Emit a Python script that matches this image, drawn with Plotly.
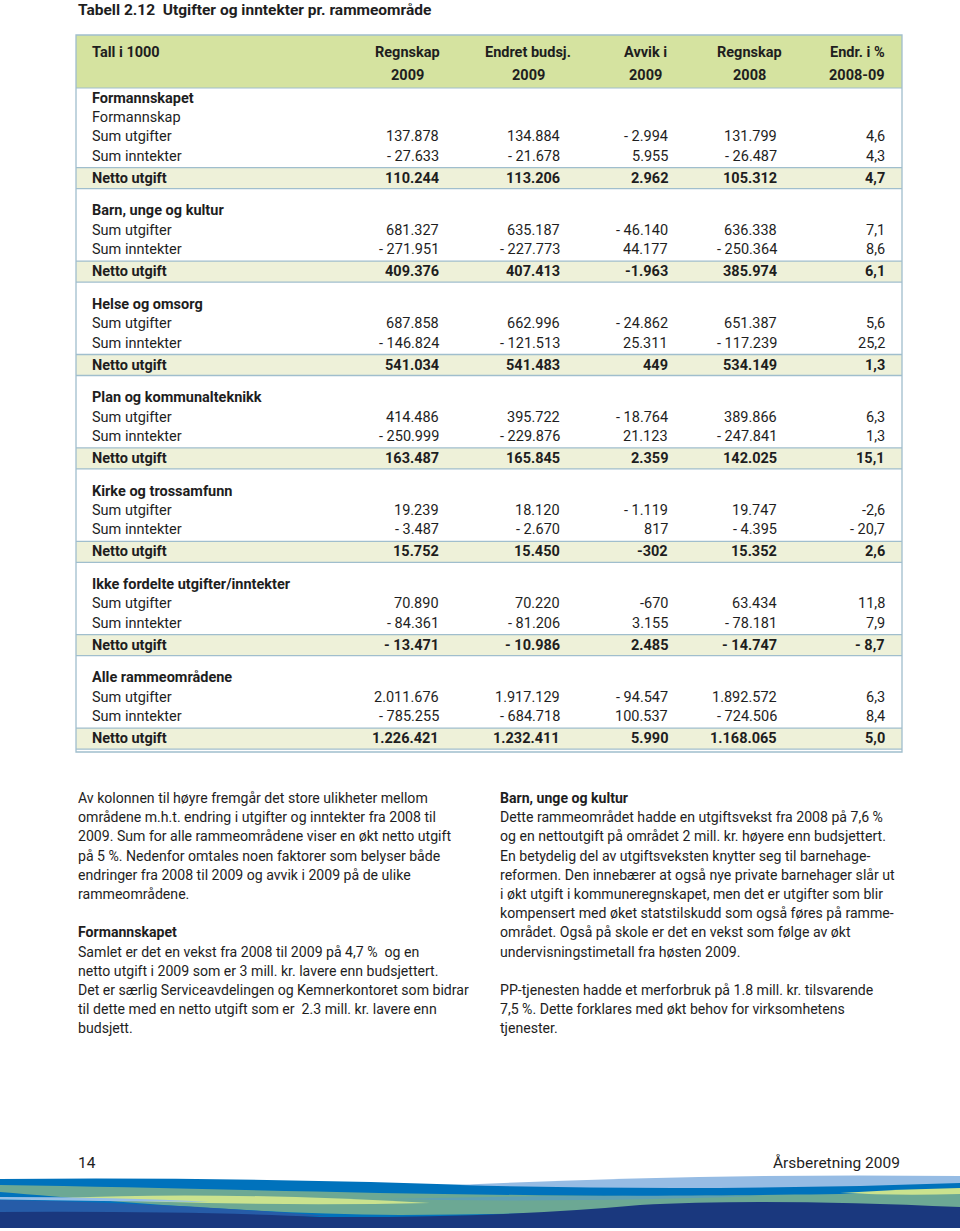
import plotly.graph_objs as go

# table data (Tall i 1000)
col_headers = [("Regnskap", "2009"), ("Endret budsj.", "2009"), ("Avvik i", "2009"),
               ("Regnskap", "2008"), ("Endr. i %", "2008-09")]
sections = ["Formannskapet", "Barn, unge og kultur", "Helse og omsorg",
            "Plan og kommunalteknikk", "Kirke og trossamfunn",
            "Ikke fordelte utgifter/inntekter", "Alle rammeområdene"]
sub_labels = ["Formannskap", "", "", "", "", "", ""]
row_labels = ["Sum utgifter", "Sum inntekter", "Netto utgift"]

regnskap_2009 = [["137.878", "- 27.633", "110.244"],
                 ["681.327", "- 271.951", "409.376"],
                 ["687.858", "- 146.824", "541.034"],
                 ["414.486", "- 250.999", "163.487"],
                 ["19.239", "- 3.487", "15.752"],
                 ["70.890", "- 84.361", "- 13.471"],
                 ["2.011.676", "- 785.255", "1.226.421"]]
budsjett_2009 = [["134.884", "- 21.678", "113.206"],
                 ["635.187", "- 227.773", "407.413"],
                 ["662.996", "- 121.513", "541.483"],
                 ["395.722", "- 229.876", "165.845"],
                 ["18.120", "- 2.670", "15.450"],
                 ["70.220", "- 81.206", "- 10.986"],
                 ["1.917.129", "- 684.718", "1.232.411"]]
avvik_2009 = [["- 2.994", "5.955", "2.962"],
              ["- 46.140", "44.177", "-1.963"],
              ["- 24.862", "25.311", "449"],
              ["- 18.764", "21.123", "2.359"],
              ["- 1.119", "817", "-302"],
              ["-670", "3.155", "2.485"],
              ["- 94.547", "100.537", "5.990"]]
regnskap_2008 = [["131.799", "- 26.487", "105.312"],
                 ["636.338", "- 250.364", "385.974"],
                 ["651.387", "- 117.239", "534.149"],
                 ["389.866", "- 247.841", "142.025"],
                 ["19.747", "- 4.395", "15.352"],
                 ["63.434", "- 78.181", "- 14.747"],
                 ["1.892.572", "- 724.506", "1.168.065"]]
endring_pct = [["4,6", "4,3", "4,7"],
               ["7,1", "8,6", "6,1"],
               ["5,6", "25,2", "1,3"],
               ["6,3", "1,3", "15,1"],
               ["-2,6", "- 20,7", "2,6"],
               ["11,8", "7,9", "- 8,7"],
               ["6,3", "8,4", "5,0"]]

text_left = ["Av kolonnen til høyre fremgår det store ulikheter mellom",
             "områdene m.h.t. endring i utgifter og inntekter fra 2008 til",
             "2009. Sum for alle rammeområdene viser en økt netto utgift",
             "på 5 %. Nedenfor omtales noen faktorer som belyser både",
             "endringer fra 2008 til 2009 og avvik i 2009 på de ulike",
             "rammeområdene.",
             "",
             "<b>Formannskapet</b>",
             "Samlet er det en vekst fra 2008 til 2009 på 4,7 %  og en",
             "netto utgift i 2009 som er 3 mill. kr. lavere enn budsjettert.",
             "Det er særlig Serviceavdelingen og Kemnerkontoret som bidrar",
             "til dette med en netto utgift som er  2.3 mill. kr. lavere enn",
             "budsjett."]
text_right = ["<b>Barn, unge og kultur</b>",
              "Dette rammeområdet hadde en utgiftsvekst fra 2008 på 7,6 %",
              "og en nettoutgift på området 2 mill. kr. høyere enn budsjettert.",
              "En betydelig del av utgiftsveksten knytter seg til barnehage-",
              "reformen. Den innebærer at også nye private barnehager slår ut",
              "i økt utgift i kommuneregnskapet, men det er utgifter som blir",
              "kompensert med øket statstilskudd som også føres på ramme-",
              "området. Også på skole er det en vekst som følge av økt",
              "undervisningstimetall fra høsten 2009.",
              "",
              "PP-tjenesten hadde et merforbruk på 1.8 mill. kr. tilsvarende",
              "7,5 %. Dette forklares med økt behov for virksomhetens",
              "tjenester."]

FONT = "Roboto"
TXT = "rgb(30,30,30)"
HEAD_FILL = "rgb(213,227,160)"
NETTO_FILL = "rgb(238,241,217)"
LINE = "rgb(160,190,205)"

col_right = [441, 562, 670, 779, 887]
col_head_center = [407, 528, 645, 749, 857]
label_x = 90
tbl_left, tbl_right, tbl_top, tbl_bottom = 76, 902, 35, 752

fig = go.Figure()
# invisible trace so the axes exist
fig.add_trace(go.Scatter(x=[0, 960], y=[0, 1231], mode='markers',
                         marker=dict(opacity=0), hoverinfo='skip', showlegend=False))

shapes = []
annotations = []


def txt(x, y, s, anchor='left', size=14.5, bold=False, color=TXT):
    if bold and s:
        s = '<b>' + s + '</b>'
    annotations.append(dict(x=x, y=y, xref='x', yref='y', text=s, showarrow=False,
                            xanchor=anchor, yanchor='middle',
                            font=dict(family=FONT, size=size, color=color)))


# title
txt(76, 10, "Tabell 2.12  Utgifter og inntekter pr. rammeområde", size=15.5, bold=True)

# header band
shapes.append(dict(type='rect', xref='x', yref='y', x0=tbl_left, x1=tbl_right, y0=tbl_top, y1=88,
                   fillcolor=HEAD_FILL, line=dict(width=0), layer='below'))
txt(label_x, 52, "Tall i 1000", bold=True)
for i, (h1, h2) in enumerate(col_headers):
    txt(col_head_center[i], 52, h1, anchor='center', bold=True)
    txt(col_head_center[i], 75, h2, anchor='center', bold=True)
shapes.append(dict(type='line', xref='x', yref='y', x0=tbl_left, x1=tbl_right, y0=88, y1=88,
                   line=dict(color=LINE, width=1)))

columns = [regnskap_2009, budsjett_2009, avvik_2009, regnskap_2008, endring_pct]
y = 98
for s, sec in enumerate(sections):
    txt(label_x, y, sec, bold=True)
    if sub_labels[s]:
        y += 19.4
        txt(label_x, y, sub_labels[s])
    for r, lab in enumerate(row_labels):
        netto = (r == 2)
        y += 22 if netto else 19.4
        if netto:
            shapes.append(dict(type='rect', xref='x', yref='y', x0=tbl_left, x1=tbl_right,
                               y0=y - 10.5, y1=y + 10.5, fillcolor=NETTO_FILL,
                               line=dict(width=0), layer='below'))
            for yy in (y - 10.5, y + 10.5):
                shapes.append(dict(type='line', xref='x', yref='y', x0=tbl_left, x1=tbl_right,
                                   y0=yy, y1=yy, line=dict(color=LINE, width=1.3)))
        txt(label_x, y, lab, bold=netto)
        for c, col in enumerate(columns):
            txt(col_right[c], y, col[s][r], anchor='right', bold=netto)
    y += 32.6

# outer border
shapes.append(dict(type='rect', xref='x', yref='y', x0=tbl_left, x1=tbl_right, y0=tbl_top,
                   y1=tbl_bottom, line=dict(color=LINE, width=1.3), fillcolor='rgba(0,0,0,0)'))

# body text
for i, line in enumerate(text_left):
    if line:
        txt(76, 798 + 19.2 * i, line, size=14.1)
for i, line in enumerate(text_right):
    if line:
        txt(498, 798 + 19.2 * i, line, size=14.1)

# footer
txt(76, 1163, "14", size=15.5)
txt(902, 1163, "Årsberetning 2009", anchor='right', size=15.5)

# decorative wave band at the bottom
waves = [
    ("rgb(0,114,188)", "M0,1179 Q240,1177 470,1185 Q700,1179 960,1176 L960,1228 L0,1228 Z"),
    ("rgb(150,188,228)", "M460,1185 Q700,1173 960,1176 L960,1183 Q700,1192 460,1185 Z"),
    ("rgb(108,168,148)", "M0,1185 C200,1188 400,1195 640,1196 C800,1195 900,1193 960,1193 "
                         "L960,1207 C800,1206 600,1214 400,1215 C250,1214 100,1200 0,1192 Z"),
    ("rgb(96,160,178)", "M380,1199 C520,1196 620,1195 760,1196 C650,1200 520,1202 380,1199 Z"),
    ("rgb(202,226,142)", "M60,1198 Q220,1191 430,1203 Q250,1207 60,1198 Z"),
    ("rgb(202,226,142)", "M840,1193 Q900,1189 960,1188 L960,1194 Q900,1196 840,1193 Z"),
    ("rgb(150,190,230)", "M0,1197 Q120,1197 210,1202 Q100,1201 0,1199.5 Z"),
    ("rgb(38,92,168)", "M0,1200 Q150,1202 330,1216 L0,1216 Z"),
    ("rgb(26,56,126)", "M0,1212 Q200,1211 320,1217 Q500,1218 640,1205 Q760,1198 960,1207 "
                       "L960,1228 L0,1228 Z"),
]
for color, path in waves:
    shapes.append(dict(type='path', xref='x', yref='y', path=path, fillcolor=color,
                       line=dict(width=0)))

fig.update_layout(
    width=960, height=1231,
    margin=dict(l=0, r=0, t=0, b=0),
    paper_bgcolor='white', plot_bgcolor='white',
    showlegend=False,
    xaxis=dict(range=[0, 960], visible=False, fixedrange=True),
    yaxis=dict(range=[1231, 0], visible=False, fixedrange=True),
    shapes=shapes,
    annotations=annotations,
    dragmode=False,
)

# drop the default page margin so the figure sits at the window's top-left corner
fig.write_html("out.html", config={'displayModeBar': False},
               post_script="document.body.style.margin='0';document.body.style.overflow='hidden';")
